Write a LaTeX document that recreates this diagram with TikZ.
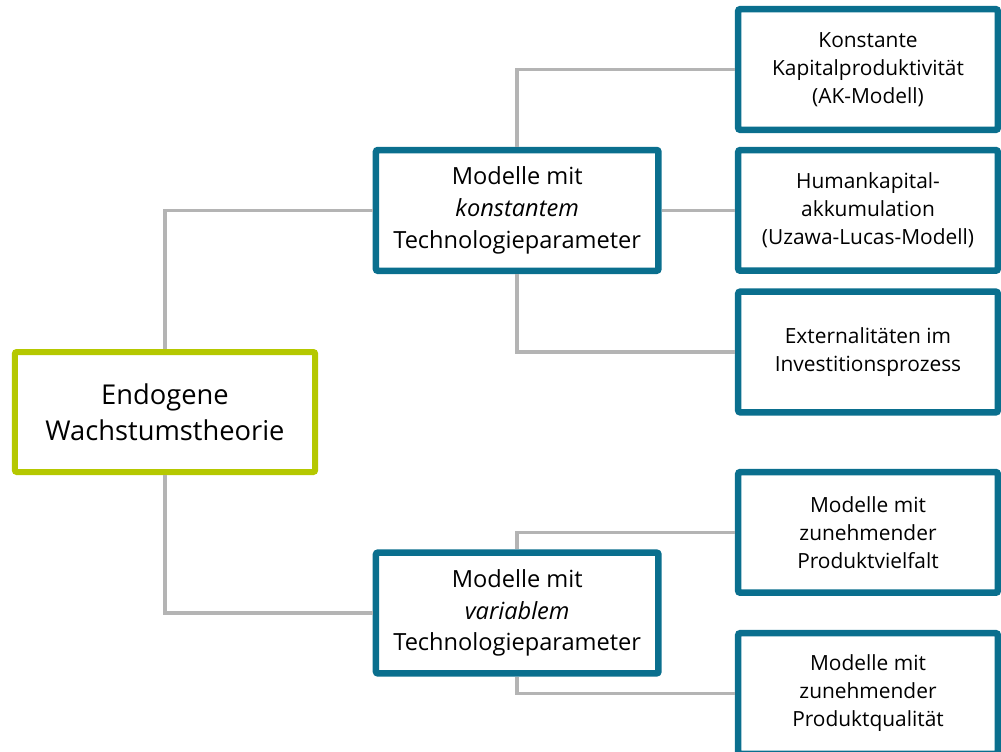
\documentclass[tikz,border=0pt]{standalone}
\usepackage{fontspec}
\setmainfont{Open Sans}
\definecolor{grn}{HTML}{B5C800}
\definecolor{blu}{HTML}{0A6F8E}
\definecolor{gry}{HTML}{B4B4B4}
\begin{document}
\begin{tikzpicture}[x=1pt,y=-1pt,
 box/.style={draw, fill=white, rounded corners=2pt, align=center, inner sep=0pt, anchor=center},
 rootbox/.style={box, draw=grn, line width=6pt, minimum width=300.3pt, minimum height=120pt, font=\fontsize{27.3}{36}\selectfont},
 midbox/.style={box, draw=blu, line width=6.5pt, minimum width=282.5pt, minimum height=120.8pt, font=\fontsize{23.6}{31.7}\selectfont},
 leafbox/.style={box, draw=blu, line width=6.5pt, minimum width=259.6pt, minimum height=120.6pt, font=\fontsize{20.9}{28}\selectfont},
 conn/.style={draw=gry, line width=3.8pt}]
\useasboundingbox (0,0) rectangle (1001,752);
\clip (0,0) rectangle (1001,752);
\node[rootbox] (root) at (165,412) {Endogene\\Wachstumstheorie};
\node[midbox] (m1) at (517.2,210.4) {Modelle mit\\\textit{konstantem}\\Technologieparameter};
\node[midbox] (m2) at (517.2,613) {Modelle mit\\\textit{variablem}\\Technologieparameter};
\node[leafbox] (r1) at (868,69.5) {Konstante\\Kapitalproduktivität\\(AK-Modell)};
\node[leafbox] (r2) at (868,210.4) {Humankapital-\\akkumulation\\(Uzawa-Lucas-Modell)};
\node[leafbox] (r3) at (868,352) {Externalitäten im\\Investitionsprozess};
\node[leafbox] (r4) at (868,532.4) {Modelle mit\\zunehmender\\Produktvielfalt};
\node[leafbox] (r5) at (868,693.5) {Modelle mit\\zunehmender\\Produktqualität};
\draw[conn] (root.north) |- (m1.west);
\draw[conn] (root.south) |- (m2.west);
\draw[conn] (m1.north) |- (r1.west);
\draw[conn] (m1.east) -- (r2.west);
\draw[conn] (m1.south) |- (r3.west);
\draw[conn] (m2.north) |- (r4.west);
\draw[conn] (m2.south) |- (r5.west);
\end{tikzpicture}
\end{document}
